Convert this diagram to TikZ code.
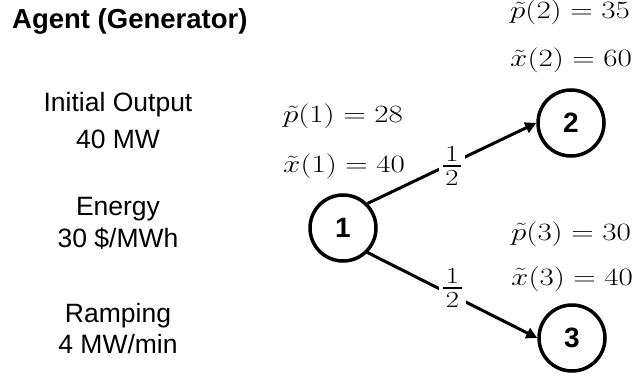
\documentclass[tikz,border=0pt]{standalone}
\usepackage{amsmath}
\usepackage{graphicx}
\usepackage[no-math]{fontspec}
\newfontfamily\labelfont{Liberation Sans}
\usetikzlibrary{arrows.meta,positioning}

% equation images in the original are stretched sideways
\newcommand{\eqtext}[1]{\scalebox{1.25}[1]{\fontsize{23}{28}\selectfont$#1$}}
% compact one half, as drawn in the original
\newcommand{\halfprob}{\vcenter{\offinterlineskip
    \halign{\hskip2pt\hfil##\hfil\hskip2pt\cr 1\cr
            \noalign{\kern3.5pt\hrule height1.6pt\kern3.5pt}2\cr}}}

\begin{document}
\begin{tikzpicture}[x=1pt,y=-1pt,>={Triangle[length=11pt,width=11pt]},
    state/.style={draw,circle,line width=3.5pt,minimum size=66pt,inner sep=0pt,
                  font=\labelfont\fontsize{28}{32}\selectfont\bfseries},
    info/.style={anchor=base,inner sep=0pt,font=\labelfont\fontsize{26.5}{30}\selectfont},
    value/.style={anchor=base west,inner sep=0pt},
    prob/.style={midway,fill=white,inner sep=4pt}]
    \useasboundingbox (0,0) rectangle (636,379);

    \node[anchor=base west,inner sep=0pt,
          font=\labelfont\fontsize{27.5}{32}\selectfont\bfseries] (title) at (12,29) {Agent (Generator)};

    % generator data
    \node[info] (outtop) at (118,112) {Initial Output};
    \node[info] (outbot) at (118,149) {40 MW};
    \node[info] (entop) at (118,215) {Energy};
    \node[info] (enbot) at (118,247) {30 \$/MWh};
    \node[info] (ramptop) at (118,322) {Ramping};
    \node[info] (rampbot) at (118,353) {4 MW/min};

    % scenario tree
    \node[state] (s1) at (343,228) {1};
    \node[state] (s2) at (571,123) {2};
    \node[state] (s3) at (572,338) {3};
    \draw[line width=3pt,->] (s1.north east)--node[prob,yshift=-3pt]{\eqtext{\halfprob}}(s2.west);
    \draw[line width=3pt,->] (s1.south east)--node[prob,yshift=7pt]{\eqtext{\halfprob}}(s3.west);

    \node[value] (p1) at (283,123) {\eqtext{\tilde{p}(1)=28}};
    \node[value] (x1) at (283,173) {\eqtext{\tilde{x}(1)=40}};
    \node[value] (p2) at (510,19) {\eqtext{\tilde{p}(2)=35}};
    \node[value] (x2) at (510,67) {\eqtext{\tilde{x}(2)=60}};
    \node[value] (p3) at (511,240) {\eqtext{\tilde{p}(3)=30}};
    \node[value] (x3) at (511,285) {\eqtext{\tilde{x}(3)=40}};
\end{tikzpicture}
\end{document}
